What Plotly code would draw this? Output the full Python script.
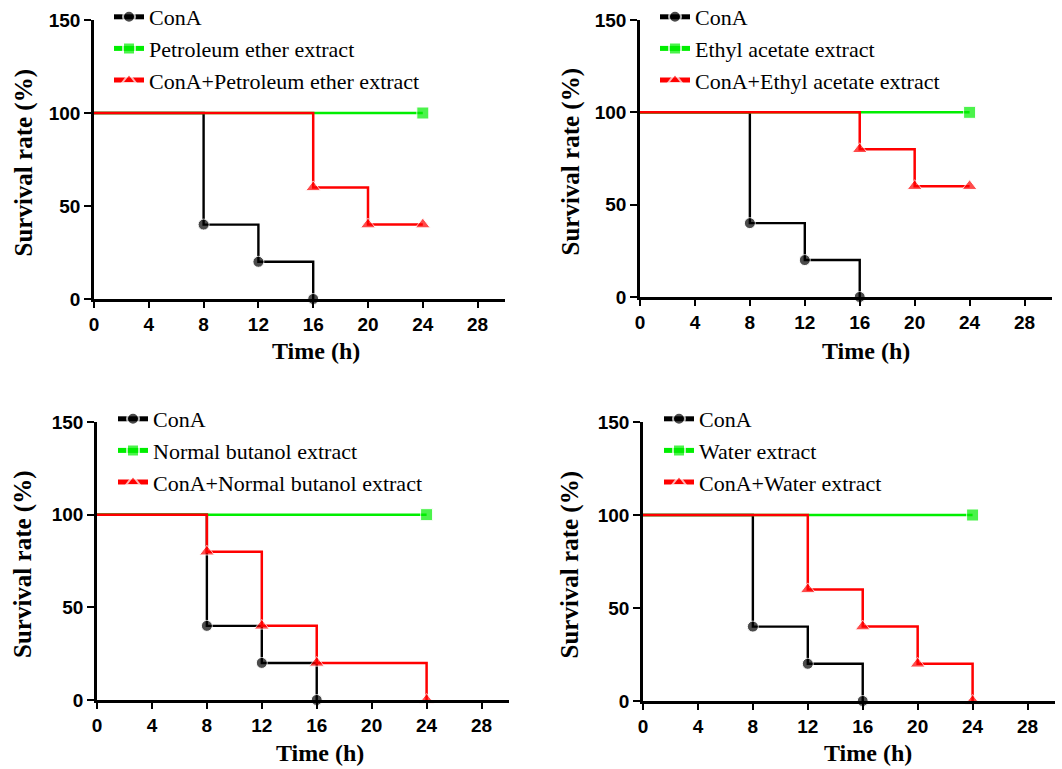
import plotly.graph_objects as go

# ---- data ----
cona_t = [0, 8, 12, 16]
cona_s = [100, 40, 20, 0]

extract_names = ["Petroleum ether extract", "Ethyl acetate extract",
                 "Normal butanol extract", "Water extract"]
extract_t = [0, 24]
extract_s = [100, 100]

combo_t = [
    [0, 16, 20, 24],
    [0, 16, 20, 24],
    [0, 8, 12, 16, 24],
    [0, 12, 16, 20, 24],
]
combo_s = [
    [100, 60, 40, 40],
    [100, 80, 60, 60],
    [100, 80, 40, 20, 0],
    [100, 60, 40, 20, 0],
]

x_ticks = [0, 4, 8, 12, 16, 20, 24, 28]
y_ticks = [0, 50, 100, 150]

W, H = 1062, 769
# panel pixel boxes: (x_left, x_right, y_top(150), y_bottom(0))
boxes = [
    (94, 505, 20, 299),
    (640, 1052, 20, 297),
    (97, 509, 422, 700),
    (643, 1055, 422, 701),
]
legend_pos = [(109, -4), (655, -4), (113, 398), (659, 398)]
ytitle_x = [23, 570, 23, 569]
xtitle_pos = [(316, 351), (866, 351), (320, 753), (868, 753)]

SERIF = "Liberation Serif, Times New Roman, serif"
SANS = "Liberation Sans, Arial, sans-serif"
GREEN = "#00ee00"
RED = "#ff0000"

fig = go.Figure()


def msizes(n, s):
    return [0] + [s] * (n - 1)


for i in range(4):
    xa = "x" if i == 0 else f"x{i+1}"
    ya = "y" if i == 0 else f"y{i+1}"
    lg = "legend" if i == 0 else f"legend{i+1}"
    fig.add_trace(go.Scatter(
        x=cona_t, y=cona_s, mode="lines+markers", name="ConA",
        line=dict(shape="hv", color="black", width=2.4),
        marker=dict(symbol="circle", size=msizes(len(cona_t), 11), color="black"),
        xaxis=xa, yaxis=ya, legend=lg, legendgroup=f"a{i}", cliponaxis=False))
    fig.add_trace(go.Scatter(
        x=extract_t, y=extract_s, mode="lines+markers", name=extract_names[i],
        line=dict(shape="hv", color=GREEN, width=2.5),
        marker=dict(symbol="square", size=msizes(len(extract_t), 12), color=GREEN),
        xaxis=xa, yaxis=ya, legend=lg, legendgroup=f"b{i}", cliponaxis=False))
    fig.add_trace(go.Scatter(
        x=combo_t[i], y=combo_s[i], mode="lines+markers", name="ConA+" + extract_names[i],
        line=dict(shape="hv", color=RED, width=2.5),
        marker=dict(symbol="triangle-up", size=msizes(len(combo_t[i]), 13), color=RED),
        xaxis=xa, yaxis=ya, legend=lg, legendgroup=f"c{i}", cliponaxis=False))

layout = dict(
    width=W, height=H, margin=dict(l=0, r=0, t=0, b=0, autoexpand=False),
    paper_bgcolor="white", plot_bgcolor="white", showlegend=True,
    annotations=[],
)

for i, (xl, xr, yt, yb) in enumerate(boxes):
    sfx = "" if i == 0 else str(i + 1)
    xd = [xl / W, xr / W]
    yd = [1 - yb / H, 1 - yt / H]
    layout["xaxis" + sfx] = dict(
        domain=xd, range=[0, 30], tickvals=x_ticks, anchor="y" + sfx,
        showline=True, linecolor="black", linewidth=2.5, ticks="outside",
        ticklen=6, tickwidth=2.2, tickcolor="black", showgrid=False, zeroline=False,
        tickfont=dict(family=SANS, size=19, color="black", weight="bold"))
    layout["yaxis" + sfx] = dict(
        domain=yd, range=[0, 150], tickvals=y_ticks, anchor="x" + sfx,
        showline=True, linecolor="black", linewidth=2.5, ticks="outside",
        ticklen=7, tickwidth=2.2, tickcolor="black", showgrid=False, zeroline=False,
        tickfont=dict(family=SANS, size=19, color="black", weight="bold"))
    lx, ly = legend_pos[i]
    layout["legend" + sfx] = dict(
        x=lx / W, y=1 - ly / H, xanchor="left", yanchor="top",
        bgcolor="rgba(0,0,0,0)", font=dict(family=SERIF, size=22, color="black"),
        tracegroupgap=0, itemwidth=30, itemsizing="constant")
    layout["annotations"].append(dict(
        text="Survival rate (%)", textangle=-90, xref="paper", yref="paper",
        x=ytitle_x[i] / W, y=1 - ((yt + yb) / 2 + 4) / H, showarrow=False,
        xanchor="center", yanchor="middle",
        font=dict(family=SERIF, size=25, color="black", weight="bold")))
    tx, ty = xtitle_pos[i]
    layout["annotations"].append(dict(
        text="Time (h)", xref="paper", yref="paper",
        x=tx / W, y=1 - ty / H, showarrow=False, xanchor="center", yanchor="middle",
        font=dict(family=SERIF, size=24, color="black", weight="bold")))

fig.update_layout(**layout)
fig.write_html(
    "out.html",
    config={"displayModeBar": False},
    post_script="document.body.style.margin='0';document.body.style.padding='0';",
)
